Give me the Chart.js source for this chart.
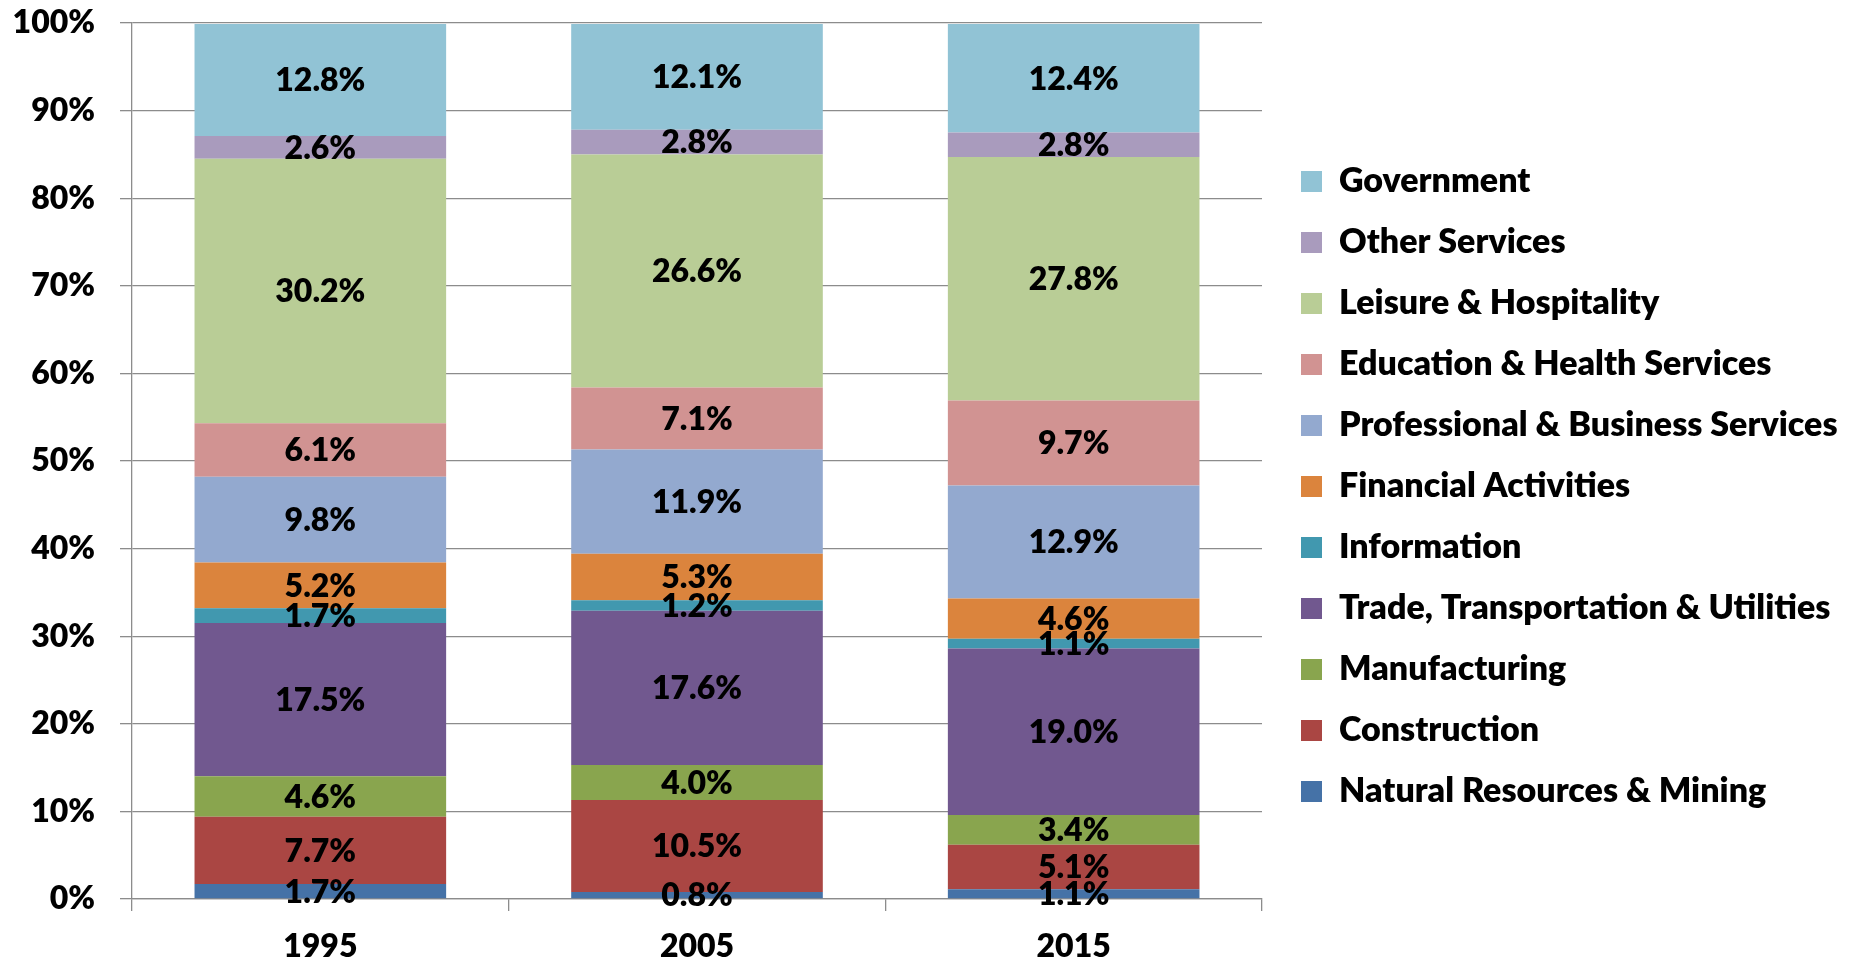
<!DOCTYPE html>
<html><head><meta charset="utf-8">
<script src="https://cdn.jsdelivr.net/npm/chart.js@4/dist/chart.umd.min.js"></script>
<style>html,body{margin:0;padding:0;background:#fff}#wrap{width:1857px;height:962px}</style>
</head><body><div id="wrap"><canvas id="c" width="1857" height="962"></canvas></div>
<script>
// ---- data ----
const categories = ['1995', '2005', '2015'];
const naturalResources = [1.7, 0.8, 1.1];
const construction = [7.7, 10.5, 5.1];
const manufacturing = [4.6, 4.0, 3.4];
const tradeTransport = [17.5, 17.6, 19.0];
const information = [1.7, 1.2, 1.1];
const financial = [5.2, 5.3, 4.6];
const professional = [9.8, 11.9, 12.9];
const education = [6.1, 7.1, 9.7];
const leisure = [30.2, 26.6, 27.8];
const otherServices = [2.6, 2.8, 2.8];
const government = [12.8, 12.1, 12.4];
const yTickValues = [0, 10, 20, 30, 40, 50, 60, 70, 80, 90, 100];

const seriesDefs = [
  ['Natural Resources & Mining', naturalResources, '#4572A7'],
  ['Construction', construction, '#AA4643'],
  ['Manufacturing', manufacturing, '#89A54E'],
  ['Trade, Transportation & Utilities', tradeTransport, '#71588F'],
  ['Information', information, '#4198AF'],
  ['Financial Activities', financial, '#DB843D'],
  ['Professional & Business Services', professional, '#93A9CF'],
  ['Education & Health Services', education, '#D19392'],
  ['Leisure & Hospitality', leisure, '#B9CD96'],
  ['Other Services', otherServices, '#A99BBD'],
  ['Government', government, '#91C3D5']
];

const FONT = 'Lato';
const WEIGHT = '800';
const GRID = '#8c8c8c';
const AX_FONT = 32;
const legendFont = 34, legendPad = 27, legendBox = 21;
const legendShiftX = 12, legendShiftY = -6;

// compute legend width to place plot right edge
const mctx = document.createElement('canvas').getContext('2d');
mctx.font = WEIGHT + ' ' + legendFont + 'px ' + FONT;
let maxW = 0;
seriesDefs.forEach(s => { maxW = Math.max(maxW, mctx.measureText(s[0]).width); });
const legendW = legendPad + legendBox + legendFont / 2 + maxW + 10;
const plotRight = 1262;
const padRight = Math.max(0, 1857 - plotRight - legendW);

const legendShift = {
  id: 'legendShift',
  afterLayout(chart) {
    const lg = chart.legend;
    if (!lg) return;
    lg.left += legendShiftX; lg.right += legendShiftX;
    lg.top += legendShiftY; lg.bottom += legendShiftY;
  }
};

const segLabels = {
  id: 'segLabels',
  afterDatasetsDraw(chart) {
    const ctx = chart.ctx;
    ctx.save();
    ctx.font = WEIGHT + ' ' + AX_FONT + 'px ' + FONT;
    ctx.fillStyle = '#000';
    ctx.textAlign = 'center';
    ctx.textBaseline = 'middle';
    chart.data.datasets.forEach((ds, i) => {
      const meta = chart.getDatasetMeta(i);
      meta.data.forEach((el, j) => {
        const p = el.getProps(['x', 'y', 'base'], true);
        ctx.fillText(ds.data[j].toFixed(1) + '%', p.x, (p.y + p.base) / 2 + 1);
      });
    });
    ctx.restore();
  }
};

new Chart(document.getElementById('c'), {
  type: 'bar',
  data: {
    labels: categories,
    datasets: seriesDefs.map(s => ({
      label: s[0], data: s[1], backgroundColor: s[2], borderWidth: 0,
      categoryPercentage: 1, barPercentage: 0.668
    }))
  },
  options: {
    responsive: false,
    animation: false,
    layout: { padding: { top: 23, right: padRight, bottom: 0, left: 0 } },
    plugins: {
      tooltip: { enabled: false },
      legend: {
        position: 'right',
        reverse: true,
        maxWidth: 800,
        labels: {
          font: { family: FONT, size: legendFont, weight: WEIGHT },
          color: '#000',
          boxWidth: legendBox, boxHeight: legendBox,
          padding: legendPad
        }
      }
    },
    scales: {
      x: {
        stacked: true,
        afterFit(s) { s.height = 63; s.paddingLeft = 0; s.paddingRight = 0; },
        grid: { display: true, drawOnChartArea: false, drawTicks: true, tickLength: 12, color: GRID, offset: true, lineWidth: 1.3 },
        border: { display: true, color: GRID, width: 1.3 },
        ticks: { color: '#000', font: { family: FONT, size: AX_FONT, weight: WEIGHT }, padding: 16 }
      },
      y: {
        stacked: true,
        min: 0, max: 100,
        afterFit(s) { s.width = 132; s.paddingTop = 0; s.paddingBottom = 0; },
        afterBuildTicks(s) { s.ticks = yTickValues.map(v => ({ value: v })); },
        grid: { color: GRID, tickLength: 12, lineWidth: 1.3 },
        border: { display: true, color: GRID, width: 1.3 },
        ticks: { color: '#000', font: { family: FONT, size: AX_FONT, weight: WEIGHT }, padding: 25, callback: v => v + '%' }
      }
    }
  },
  plugins: [segLabels, legendShift]
});
</script>
</body></html>
